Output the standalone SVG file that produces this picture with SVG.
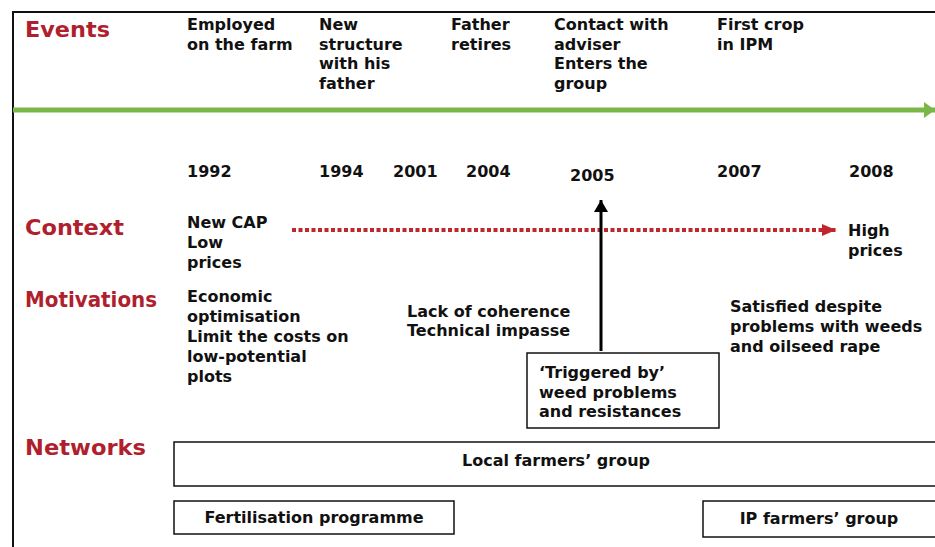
<svg xmlns="http://www.w3.org/2000/svg" width="935" height="547" viewBox="0 0 935 547">
<defs>
<style>
.t{font-family:"DejaVu Sans",Verdana,sans-serif;font-weight:bold;font-size:16px;fill:#111}
.lab{font-family:"DejaVu Sans",Verdana,sans-serif;font-weight:bold;font-size:21px;fill:#b01f2e}
.box{fill:#fff;stroke:#111;stroke-width:1.5}
</style>
<marker id="ag" markerWidth="11" markerHeight="16" refX="11" refY="8" orient="auto" markerUnits="userSpaceOnUse"><path d="M0,0 L11,8 L0,16 Z" fill="#7ab648"/></marker>
<marker id="ar" markerWidth="14" markerHeight="12" refX="14" refY="6" orient="auto" markerUnits="userSpaceOnUse"><path d="M0,0 L14,6 L0,12 Z" fill="#c0272d"/></marker>
<marker id="ab" markerWidth="12" markerHeight="14" refX="12" refY="7" orient="auto" markerUnits="userSpaceOnUse"><path d="M0,0 L12,7 L0,14 Z" fill="#000"/></marker>
</defs>
<rect width="935" height="547" fill="#fff"/>
<path d="M13,560 L13,12 L945,12" fill="none" stroke="#111" stroke-width="2"/>
<g id="labels">
<text class="lab" x="25" y="37" textLength="85" lengthAdjust="spacingAndGlyphs">Events</text>
<text class="lab" x="25" y="235" textLength="99" lengthAdjust="spacingAndGlyphs">Context</text>
<text class="lab" x="25" y="307" textLength="132" lengthAdjust="spacingAndGlyphs">Motivations</text>
<text class="lab" x="25" y="455" textLength="121" lengthAdjust="spacingAndGlyphs">Networks</text>
</g>
<g id="events">
<text class="t" x="187" y="30">Employed<tspan x="187" dy="19.5">on the farm</tspan></text>
<text class="t" x="319" y="30">New<tspan x="319" dy="19.5">structure</tspan><tspan x="319" dy="19.5">with his</tspan><tspan x="319" dy="19.5">father</tspan></text>
<text class="t" x="451" y="30">Father<tspan x="451" dy="19.5">retires</tspan></text>
<text class="t" x="554" y="30">Contact with<tspan x="554" dy="19.5">adviser</tspan><tspan x="554" dy="19.5">Enters the</tspan><tspan x="554" dy="19.5">group</tspan></text>
<text class="t" x="717" y="30">First crop<tspan x="717" dy="19.5">in IPM</tspan></text>
</g>
<g id="years">
<text class="t" x="187" y="177">1992</text>
<text class="t" x="319" y="177">1994</text>
<text class="t" x="393" y="177">2001</text>
<text class="t" x="466" y="177">2004</text>
<text class="t" x="570" y="181">2005</text>
<text class="t" x="717" y="177">2007</text>
<text class="t" x="849" y="177">2008</text>
</g>
<g id="context">
<text class="t" x="187" y="228">New CAP<tspan x="187" dy="20">Low</tspan><tspan x="187" dy="20">prices</tspan></text>
<text class="t" x="848" y="236">High<tspan x="848" dy="20">prices</tspan></text>
</g>
<g id="motivations">
<text class="t" x="187" y="302">Economic<tspan x="187" dy="20">optimisation</tspan><tspan x="187" dy="20">Limit the costs on</tspan><tspan x="187" dy="20">low-potential</tspan><tspan x="187" dy="20">plots</tspan></text>
<text class="t" x="407" y="317">Lack of coherence<tspan x="407" dy="19">Technical impasse</tspan></text>
<text class="t" x="730" y="312">Satisfied despite<tspan x="730" dy="20">problems with weeds</tspan><tspan x="730" dy="20">and oilseed rape</tspan></text>
</g>
<g id="connectors">
<line x1="13" y1="110" x2="935" y2="110" stroke="#7ab648" stroke-width="5" marker-end="url(#ag)"/>
<line x1="292" y1="230" x2="836" y2="230" stroke="#c0272d" stroke-width="4" stroke-dasharray="4 2.5" marker-end="url(#ar)"/>
<line x1="601" y1="351" x2="601" y2="200" stroke="#000" stroke-width="3" marker-end="url(#ab)"/>
</g>
<g id="trigger">
<rect class="box" x="527" y="353" width="192" height="75"/>
<text class="t" x="539" y="378">‘Triggered by’<tspan x="539" dy="19.5">weed problems</tspan><tspan x="539" dy="19.5">and resistances</tspan></text>
</g>
<g id="local-group">
<rect class="box" x="174" y="442" width="780" height="44"/>
<text class="t" x="556" y="466" text-anchor="middle">Local farmers’ group</text>
</g>
<g id="fertilisation">
<rect class="box" x="174" y="501" width="280" height="33"/>
<text class="t" x="314" y="523" text-anchor="middle">Fertilisation programme</text>
</g>
<g id="ip-group">
<rect class="box" x="703" y="501" width="250" height="36"/>
<text class="t" x="819" y="524" text-anchor="middle">IP farmers’ group</text>
</g>
</svg>
